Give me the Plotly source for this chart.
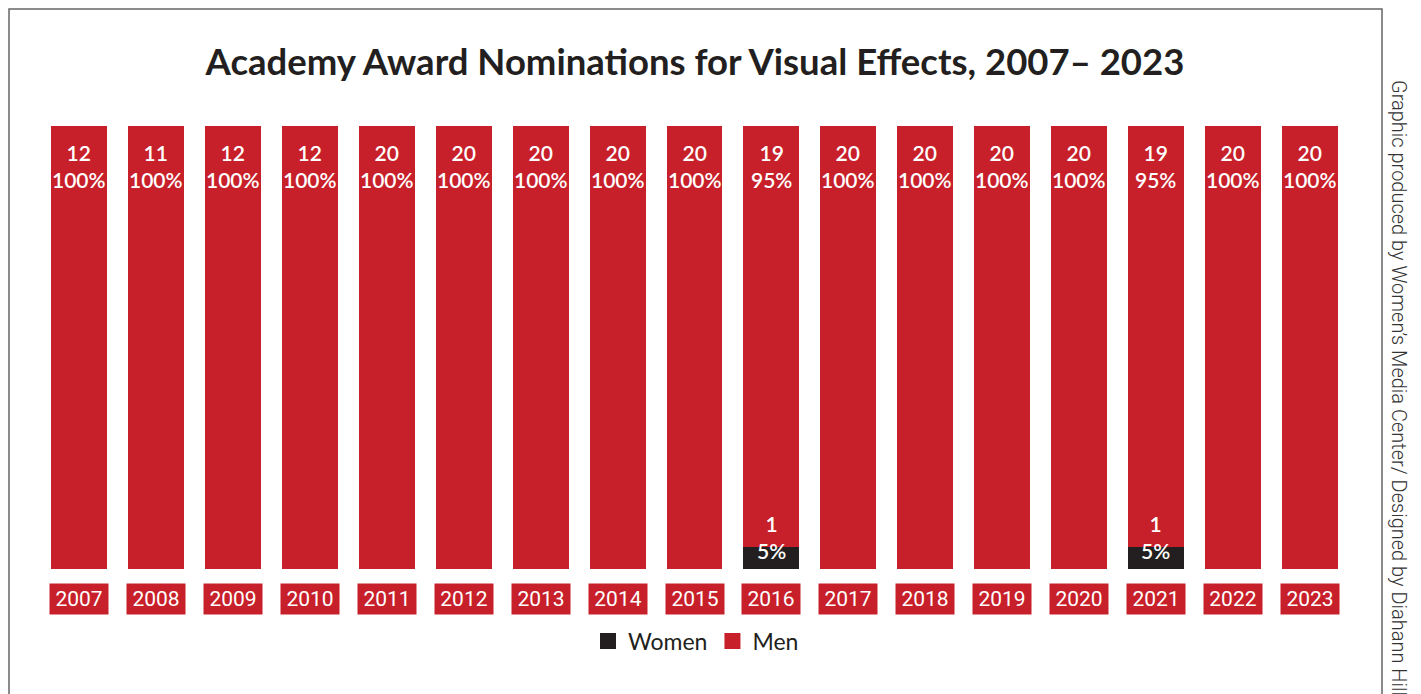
import plotly.graph_objects as go

years = ["2007", "2008", "2009", "2010", "2011", "2012", "2013", "2014", "2015",
         "2016", "2017", "2018", "2019", "2020", "2021", "2022", "2023"]
men_counts = [12, 11, 12, 12, 20, 20, 20, 20, 20, 19, 20, 20, 20, 20, 19, 20, 20]
men_pct = [100, 100, 100, 100, 100, 100, 100, 100, 100, 95, 100, 100, 100, 100, 95, 100, 100]
women_counts = [0, 0, 0, 0, 0, 0, 0, 0, 0, 1, 0, 0, 0, 0, 1, 0, 0]
women_pct = [0, 0, 0, 0, 0, 0, 0, 0, 0, 5, 0, 0, 0, 0, 5, 0, 0]

RED = "#C8202A"
BLACK = "#231F20"
FONT = "Lato"

OFF = 8  # page body margin offset
FW, FH = 1421 - OFF, 694 - OFF
L, T, W, H = 41 - OFF, 126 - OFF, 1307, 443


def px_x(x):
    return (x - OFF - L) / W


def px_y(y):
    return (T + H - (y - OFF)) / H


fig = go.Figure()
fig.add_trace(go.Bar(x=years, y=women_pct, name="Women", marker_color=BLACK,
                     marker_line_width=0, hoverinfo="skip", showlegend=False))
fig.add_trace(go.Bar(x=years, y=men_pct, name="Men", marker_color=RED,
                     marker_line_width=0, hoverinfo="skip", showlegend=False))
# legend entries with larger square swatches
fig.add_trace(go.Scatter(x=[None], y=[None], mode="markers", name="Women",
                         marker=dict(symbol="square", size=20, color=BLACK)))
fig.add_trace(go.Scatter(x=[None], y=[None], mode="markers", name="Men",
                         marker=dict(symbol="square", size=20, color=RED)))

LBL = dict(family=FONT, size=21, color="white", weight=600)

annotations = []
for i, yr in enumerate(years):
    annotations.append(dict(
        x=i, y=100, xref="x", yref="y", yanchor="top", yshift=-12,
        text=f"{men_counts[i]}<br>{men_pct[i]}%", showarrow=False, font=LBL))
    if women_counts[i] > 0:
        annotations.append(dict(
            x=i, y=0, xref="x", yref="y", yanchor="bottom", yshift=4,
            text=f"{women_counts[i]}<br>{women_pct[i]}%", showarrow=False, font=LBL))
    annotations.append(dict(
        x=i, y=0, xref="x", yref="y", yanchor="top", yshift=-14,
        text=yr, showarrow=False, bgcolor=RED, width=56, height=28,
        font=dict(family="Roboto", size=21, color="white")))

annotations.append(dict(
    x=px_x(1399), y=px_y(388), xref="paper", yref="paper", showarrow=False,
    xanchor="center", yanchor="middle",
    text="Graphic produced by Women\u2019s Media Center/ Designed by Diahann Hill",
    textangle=90, font=dict(family="Roboto", size=20, color="#333333", weight=300)))

fig.update_layout(
    width=FW, height=FH,
    margin=dict(l=L, r=FW - L - W, t=T, b=FH - T - H, pad=0),
    barmode="stack", bargap=0.272,
    paper_bgcolor="white", plot_bgcolor="white",
    title=dict(text="Academy Award Nominations for Visual Effects, 2007\u2013 2023",
               x=(695 - OFF) / FW, xanchor="center", y=1 - (62 - OFF) / FH, yanchor="middle",
               font=dict(family=FONT, size=36.5, color=BLACK, weight=700)),
    xaxis=dict(visible=False, type="category", range=[-0.5, 16.5]),
    yaxis=dict(visible=False, range=[0, 100]),
    showlegend=True,
    legend=dict(orientation="h", x=px_x(696), xanchor="center", y=px_y(641),
                yanchor="middle", traceorder="normal", itemsizing="trace",
                font=dict(family=FONT, size=23, color=BLACK)),
    annotations=annotations,
    shapes=[dict(type="rect", xref="paper", yref="paper",
                 x0=px_x(9), x1=px_x(1382),
                 y0=px_y(720), y1=px_y(9),
                 line=dict(color="#666666", width=1.5), fillcolor="rgba(0,0,0,0)",
                 layer="below")],
)

fig.write_html("out.html")
